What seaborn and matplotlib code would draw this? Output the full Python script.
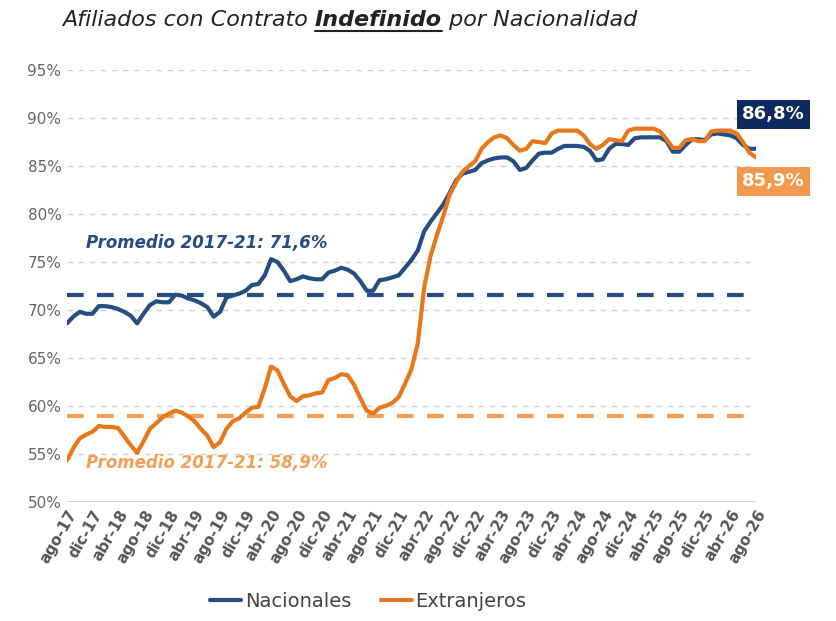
import matplotlib
matplotlib.use("Agg")
import matplotlib.pyplot as plt
import seaborn as sns
import pandas as pd
import numpy as np

months = ["ene","feb","mar","abr","may","jun","jul","ago","sep","oct","nov","dic"]
periods = []
m, y = 7, 17
for _ in range(109):
    periods.append(f"{months[m]}-{y}")
    m += 1
    if m == 12:
        m, y = 0, y + 1

nacionales = [68.6,69.3,69.8,69.6,69.6,70.4,70.4,70.3,70.1,69.8,69.4,68.6,69.6,70.5,70.9,70.8,70.8,71.6,71.5,71.2,
              71.0,70.7,70.3,69.3,69.8,71.3,71.5,71.7,72.0,72.6,72.7,73.6,75.3,75.0,74.1,73.0,73.2,73.5,73.3,73.2,
              73.2,73.9,74.1,74.4,74.2,73.8,73.0,72.0,72.0,73.1,73.2,73.4,73.6,74.4,75.2,76.2,78.2,79.2,80.1,81.0,
              82.2,83.5,84.2,84.4,84.6,85.3,85.6,85.8,85.9,85.9,85.5,84.6,84.8,85.6,86.3,86.4,86.4,86.8,87.1,87.1,
              87.1,87.0,86.6,85.6,85.7,86.8,87.3,87.3,87.2,87.9,88.0,88.0,88.0,88.0,87.6,86.5,86.5,87.2,87.8,87.8,
              87.7,88.3,88.4,88.3,88.2,87.9,87.2,86.8,86.8]
extranjeros = [54.3,55.6,56.6,57.0,57.3,57.9,57.8,57.8,57.7,56.8,55.9,55.1,56.3,57.6,58.2,58.8,59.2,59.5,59.3,58.9,
               58.4,57.6,56.9,55.7,56.2,57.6,58.4,58.7,59.3,59.8,59.9,61.8,64.1,63.7,62.3,61.0,60.5,61.0,61.1,61.3,
               61.4,62.7,62.9,63.3,63.2,62.2,60.8,59.5,59.2,59.8,60.0,60.3,60.9,62.3,63.8,66.5,72.3,75.6,77.8,79.8,
               82.0,83.3,84.4,85.0,85.5,86.8,87.5,88.0,88.2,87.9,87.2,86.6,86.8,87.6,87.5,87.4,88.4,88.7,88.7,88.7,
               88.7,88.2,87.3,86.8,87.2,87.8,87.7,87.6,88.7,88.9,88.9,88.9,88.9,88.6,87.8,86.9,86.9,87.7,87.8,87.6,
               87.6,88.6,88.7,88.7,88.7,88.4,87.5,86.4,85.9]
prom_nac = 71.6
prom_ext = 58.9
yticks = [50,55,60,65,70,75,80,85,90,95]

BLUE = "#264d82"
ORANGE = "#e8781c"
ORANGE_L = "#f2a057"

df = pd.DataFrame({"i": np.arange(len(periods)), "Nacionales": nacionales, "Extranjeros": extranjeros})
long = df.melt(id_vars="i", var_name="serie", value_name="v")

sns.set_theme(style="white")
plt.rcParams['font.family'] = ['DejaVu Sans']
fig = plt.figure(figsize=(8.37, 6.21), dpi=100)
ax = fig.add_axes([0.080, 0.192, 0.823, 0.695])

ax.axhline(prom_nac, color=BLUE, lw=3, ls=(0, (4, 3.2)), zorder=1)
ax.axhline(prom_ext, color=ORANGE_L, lw=3, ls=(0, (4, 3.2)), zorder=1)
sns.lineplot(data=long, x="i", y="v", hue="serie", palette={"Nacionales": BLUE, "Extranjeros": ORANGE},
             lw=3, ax=ax, legend=False, zorder=3)

ax.set_xlim(0, len(periods) - 1)
ax.set_ylim(50, 95)
ax.set_yticks(yticks)
ax.set_yticklabels([f"{t}%" for t in yticks], color="#666666", fontsize=11)
for t in yticks[1:]:
    ax.axhline(t, color="#d0d0d0", lw=1, ls=(0, (4, 4)), zorder=0)
ax.axhline(50, color="#d0d0d0", lw=1.2, zorder=0)
xt = list(range(0, len(periods), 4))
ax.set_xticks(xt)
ax.set_xticklabels([periods[k] for k in xt], rotation=60, ha="right", rotation_mode="anchor",
                   color="#555555", fontsize=11, fontweight="bold")
ax.tick_params(axis="both", length=0, pad=4)
for s in ax.spines.values():
    s.set_visible(False)
ax.set_xlabel(""); ax.set_ylabel("")

ax.text(3, 77.0, "Promedio 2017-21: 71,6%", color=BLUE, fontsize=12, fontweight="bold", style="italic", va="center")
ax.text(3, 54.0, "Promedio 2017-21: 58,9%", color=ORANGE_L, fontsize=12, fontweight="bold", style="italic", va="center")

ax.text(110.8, 90.4, "86,8%", color="white", fontsize=13, fontweight="bold", ha="center", va="center",
        clip_on=False, bbox=dict(boxstyle="square,pad=0.3", fc="#0c2a5e", ec="none"))
ax.text(110.8, 83.4, "85,9%", color="white", fontsize=13, fontweight="bold", ha="center", va="center",
        clip_on=False, bbox=dict(boxstyle="square,pad=0.3", fc="#f3994d", ec="none"))

fig.canvas.draw()
r = fig.canvas.get_renderer()
x0 = 62 / 837
yt = 1 - 20 / 621
parts = [("Afiliados con Contrato ", "normal"), ("Indefinido", "bold"), (" por Nacionalidad", "normal")]
for txt, w in parts:
    t = fig.text(x0, yt, txt, fontsize=16, style="italic", fontweight=w, color="#222222", va="center")
    bb = t.get_window_extent(r)
    if w == "bold":
        fig.add_artist(plt.Line2D([bb.x0 / 837, bb.x1 / 837], [(bb.y0 - 1) / 621] * 2, color="#222222", lw=1.5))
    x0 = bb.x1 / 837

from matplotlib.lines import Line2D
h = [Line2D([], [], color=BLUE, lw=3), Line2D([], [], color=ORANGE, lw=3)]
fig.legend(h, ["Nacionales", "Extranjeros"], loc="center", bbox_to_anchor=(0.44, 0.032), ncol=2, frameon=False,
           fontsize=14, handlelength=1.6, handletextpad=0.2, columnspacing=1.5, labelcolor="#444444")

fig.savefig("out.png", dpi=100)
